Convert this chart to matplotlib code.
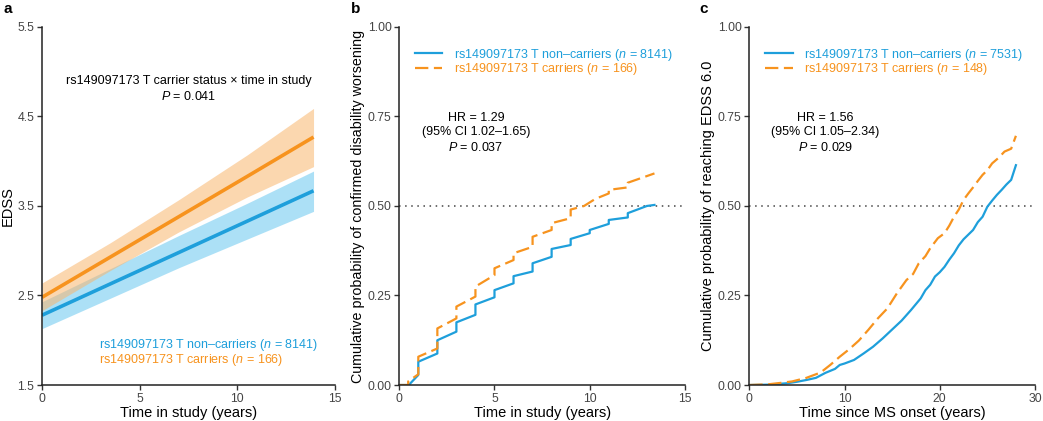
import matplotlib
matplotlib.use("Agg")
import matplotlib.pyplot as plt

plt.rcParams['font.family'] = ['Liberation Sans', 'DejaVu Sans']
plt.rcParams['mathtext.fontset'] = 'custom'
plt.rcParams['mathtext.rm'] = 'Liberation Sans'
plt.rcParams['mathtext.it'] = 'Liberation Sans:italic'

BLUE = '#1E9FDB'
ORANGE = '#F7931E'

# ---- panel a: EDSS trajectories ----
a_time = [0, 3.5, 7, 10.5, 13.9]
a_nc_mean = [2.28, 2.63, 2.98, 3.33, 3.67]
a_nc_lo = [2.13, 2.47, 2.81, 3.13, 3.44]
a_nc_hi = [2.43, 2.80, 3.17, 3.53, 3.89]
a_c_mean = [2.48, 2.93, 3.38, 3.83, 4.27]
a_c_lo = [2.33, 2.78, 3.21, 3.60, 3.94]
a_c_hi = [2.64, 3.09, 3.57, 4.07, 4.59]

# ---- panel b: confirmed disability worsening ----
b_nc_t = [0, 0.5, 1, 1, 2, 2, 3, 3, 4, 4, 5, 5, 6, 6, 7, 7, 8, 8, 9, 9, 10, 10,
          11, 11, 12, 12, 13, 13.4]
b_nc_p = [0, 0, 0.028, 0.065, 0.088, 0.125, 0.149, 0.175, 0.196, 0.225, 0.245, 0.265,
          0.284, 0.304, 0.317, 0.34, 0.358, 0.38, 0.391, 0.408, 0.424, 0.433,
          0.45, 0.461, 0.468, 0.48, 0.5, 0.503]
b_c_t = [0, 0.47, 0.47, 1, 1, 2, 2, 3, 3, 4, 4, 5, 5, 6, 6, 7, 7, 8, 8, 9, 9, 9.7,
         10.3, 11, 11, 12, 12, 13.4]
b_c_p = [0, 0, 0.01, 0.03, 0.079, 0.102, 0.158, 0.186, 0.219, 0.247, 0.275, 0.307,
         0.326, 0.349, 0.368, 0.386, 0.414, 0.433, 0.452, 0.466, 0.49, 0.5,
         0.52, 0.535, 0.545, 0.552, 0.565, 0.591]

# ---- panel c: reaching EDSS 6.0 ----
c_nc_t = [0, 2, 4, 5, 6, 7, 8, 9, 9.5, 10, 11, 12, 13, 14, 15, 16, 17, 18, 18.5,
          19, 19.5, 20, 20.5, 21, 21.5, 22, 22.5, 23, 23.5, 24, 24.5, 25, 25.5, 26,
          26.5, 27, 27.5, 28]
c_nc_p = [0, 0.001, 0.005, 0.009, 0.014, 0.02, 0.034, 0.045, 0.056, 0.06, 0.07,
          0.088, 0.107, 0.13, 0.155, 0.18, 0.21, 0.242, 0.265, 0.28, 0.303, 0.315,
          0.33, 0.35, 0.368, 0.39, 0.407, 0.42, 0.433, 0.455, 0.47, 0.498, 0.515,
          0.531, 0.545, 0.56, 0.573, 0.614]
c_c_t = [0, 2, 3, 4.5, 6, 7.5, 8.5, 9.5, 10.5, 11.5, 12.5, 13.5, 14.5, 15.5, 16.5,
         17.2, 17.8, 18.5, 19, 19.8, 20.5, 21, 21.5, 22, 22.5, 23, 23.5, 24, 24.5,
         25, 25.5, 26.2, 26.8, 27.5, 28]
c_c_p = [0, 0.002, 0.005, 0.01, 0.02, 0.035, 0.056, 0.079, 0.1, 0.124, 0.154, 0.186,
         0.214, 0.256, 0.293, 0.31, 0.34, 0.36, 0.382, 0.41, 0.424, 0.445, 0.47,
         0.49, 0.517, 0.535, 0.552, 0.57, 0.587, 0.6, 0.619, 0.635, 0.652, 0.66,
         0.696]

fig = plt.figure(figsize=(10.43, 4.21), dpi=100)
ax_a = fig.add_axes([0.0403, 0.0855, 0.2809, 0.8504])
ax_b = fig.add_axes([0.3828, 0.0855, 0.2739, 0.8504])
ax_c = fig.add_axes([0.7184, 0.0855, 0.2739, 0.8504])

FS = 9.0


def style(ax):
    for s in ['top', 'right']:
        ax.spines[s].set_visible(False)
    for s in ['left', 'bottom']:
        ax.spines[s].set_color('#222222')
        ax.spines[s].set_linewidth(1.1)
    ax.tick_params(direction='out', length=3.5, width=1.0, color='#333333',
                   labelsize=8.8, labelcolor='#444444', pad=2)


# panel a
ax_a.fill_between(a_time, a_nc_lo, a_nc_hi, color='#5BC2EE', alpha=0.5, lw=0)
ax_a.fill_between(a_time, a_c_lo, a_c_hi, color='#F9B66E', alpha=0.55, lw=0)
ax_a.plot(a_time, a_nc_mean, color=BLUE, lw=2.6, solid_capstyle='butt')
ax_a.plot(a_time, a_c_mean, color=ORANGE, lw=2.6, solid_capstyle='butt')
ax_a.set_xlim(0, 15)
ax_a.set_ylim(1.5, 5.5)
ax_a.set_xticks([0, 5, 10, 15])
ax_a.set_yticks([1.5, 2.5, 3.5, 4.5, 5.5])
ax_a.set_xlabel('Time in study (years)', fontsize=10.5, labelpad=1)
ax_a.set_ylabel('EDSS', fontsize=10.5, labelpad=2)
ax_a.text(7.53, 4.81, 'rs149097173 T carrier status × time in study\n$P$ = 0.041',
          ha='center', va='center', fontsize=FS, linespacing=1.3)
ax_a.text(2.92, 1.947, 'rs149097173 T non–carriers ($n$ = 8141)', color=BLUE,
          fontsize=FS, va='center')
ax_a.text(2.92, 1.78, 'rs149097173 T carriers ($n$ = 166)', color=ORANGE,
          fontsize=FS, va='center')
style(ax_a)

# panel b
ax_b.axhline(0.5, color='#444444', lw=1.1, ls=(0, (1, 3)))
ax_b.plot(b_nc_t, b_nc_p, color=BLUE, lw=1.6,
          label='rs149097173 T non–carriers ($n$ = 8141)')
ax_b.plot(b_c_t, b_c_p, color=ORANGE, lw=1.6, ls=(0, (6, 2.5)),
          label='rs149097173 T carriers ($n$ = 166)')
ax_b.set_xlim(0, 15)
ax_b.set_ylim(0, 1)
ax_b.set_xticks([0, 5, 10, 15])
ax_b.set_yticks([0, 0.25, 0.5, 0.75, 1.0])
ax_b.set_yticklabels(['0.00', '0.25', '0.50', '0.75', '1.00'])
ax_b.set_xlabel('Time in study (years)', fontsize=10.5, labelpad=1)
ax_b.set_ylabel('Cumulative probability of confirmed disability worsening',
                fontsize=10.3, labelpad=2)
ax_b.text(4.03, 0.704, 'HR = 1.29\n(95% CI 1.02–1.65)\n$P$ = 0.037', ha='center',
          va='center', fontsize=FS, linespacing=1.3)
ax_b.legend(loc='upper left', bbox_to_anchor=(0.055, 0.945), frameon=False,
            fontsize=FS, handlelength=2.2, handletextpad=0.9, labelspacing=-0.12,
            borderpad=0, borderaxespad=0, labelcolor='linecolor')
style(ax_b)

# panel c
ax_c.axhline(0.5, color='#444444', lw=1.1, ls=(0, (1, 3)))
ax_c.plot(c_nc_t, c_nc_p, color=BLUE, lw=1.6,
          label='rs149097173 T non–carriers ($n$ = 7531)')
ax_c.plot(c_c_t, c_c_p, color=ORANGE, lw=1.6, ls=(0, (6, 2.5)),
          label='rs149097173 T carriers ($n$ = 148)')
ax_c.set_xlim(0, 30)
ax_c.set_ylim(0, 1)
ax_c.set_xticks([0, 10, 20, 30])
ax_c.set_yticks([0, 0.25, 0.5, 0.75, 1.0])
ax_c.set_yticklabels(['0.00', '0.25', '0.50', '0.75', '1.00'])
ax_c.set_xlabel('Time since MS onset (years)', fontsize=10.5, labelpad=1)
ax_c.set_ylabel('Cumulative probability of reaching EDSS 6.0', fontsize=10.5,
                labelpad=2)
ax_c.text(8.0, 0.704, 'HR = 1.56\n(95% CI 1.05–2.34)\n$P$ = 0.029', ha='center',
          va='center', fontsize=FS, linespacing=1.3)
ax_c.legend(loc='upper left', bbox_to_anchor=(0.055, 0.945), frameon=False,
            fontsize=FS, handlelength=2.2, handletextpad=0.9, labelspacing=-0.12,
            borderpad=0, borderaxespad=0, labelcolor='linecolor')
style(ax_c)

fig.text(0.003, 0.995, 'a', fontsize=11, fontweight='bold', va='top')
fig.text(0.336, 0.995, 'b', fontsize=11, fontweight='bold', va='top')
fig.text(0.671, 0.995, 'c', fontsize=11, fontweight='bold', va='top')

fig.savefig('out.png', dpi=100)
